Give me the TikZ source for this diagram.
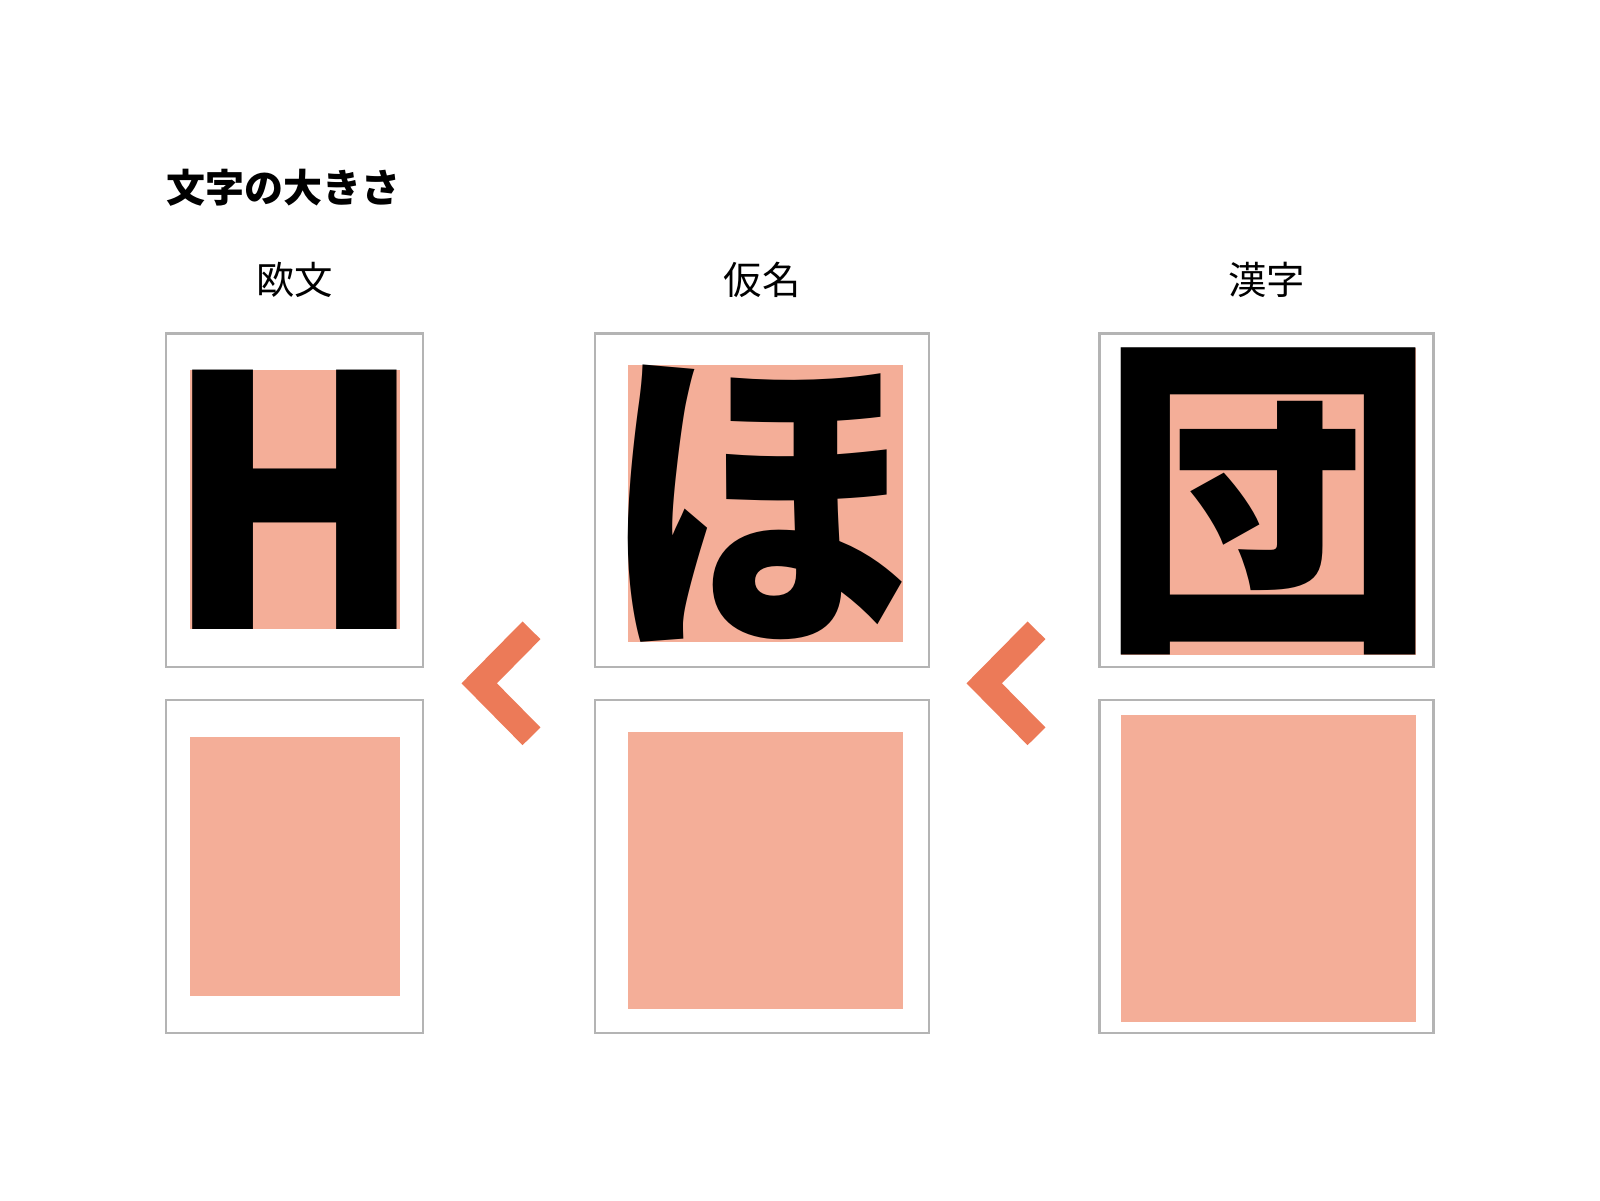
\documentclass[tikz,border=0pt]{standalone}
\usepackage{fontspec}
\newfontfamily\jpfont{Noto Sans CJK JP}
\usetikzlibrary{calc}

\definecolor{sizepink}{HTML}{F4AE98}
\definecolor{arroworange}{HTML}{EC7A58}
\definecolor{framegray}{HTML}{B4B4B4}

\begin{document}
\begin{tikzpicture}[
  x=0.5pt, y=-0.5pt,
  frame/.style={draw=framegray, line width=1.45pt},
  chevron/.style={draw=arroworange, line width=12.6pt, line join=miter, line cap=butt},
  every node/.style={inner sep=0pt}
]
\useasboundingbox (0,0) rectangle (1600,1200);

% ---------------- Title ----------------
\node[anchor=west, font=\jpfont\bfseries\fontsize{19.5pt}{23pt}\selectfont] (title) at (166,188) {文字の大きさ};

% ---------------- Columns: label, frames, ink boxes, glyph ----------------
\foreach \n/\cx/\bw/\px/\py/\pw/\ph/\fit/\gx/\lab/\gl in {
  1/294.5/257/295/499.5/210/259/0.80/0/欧文/H,
  2/762/334/765/503.5/275/277/0.89/-7/仮名/ほ,
  3/1266.5/334/1268.5/501.5/295/307/0.87/0/漢字/団}{
  \node[font=\jpfont\fontsize{19.2pt}{23pt}\selectfont] (label\n) at (\cx,280) {\lab};
  % top and bottom frames
  \draw[frame] (\cx-\bw/2,333.5) rectangle (\cx+\bw/2,667);
  \draw[frame] (\cx-\bw/2,700) rectangle (\cx+\bw/2,1033);
  % ink boxes (same size in both rows)
  \fill[sizepink] (\px-\pw/2,\py-\ph/2) rectangle (\px+\pw/2,\py+\ph/2);
  \fill[sizepink] (\px-\pw/2,\py+366.5-\ph/2) rectangle (\px+\pw/2,\py+366.5+\ph/2);
  % the glyph, stretched to its ink box
  \pgfmathsetlengthmacro\glw{\pw*0.5pt/\fit}
  \pgfmathsetlengthmacro\glh{\ph*0.5pt}
  \node (glyph\n) at (\px+\gx,\py) {\resizebox*{\glw}{\glh}{\jpfont\bfseries\gl}};
}

% ---------------- Chevrons ----------------
\coordinate (c1) at (479.2,683.3);
\coordinate (c2) at (984.2,683.3);
\draw[chevron] ($(c1)+(52.3,-53)$) -- (c1) -- ($(c1)+(52.3,53)$);
\draw[chevron] ($(c2)+(52.3,-53)$) -- (c2) -- ($(c2)+(52.3,53)$);

\end{tikzpicture}
\end{document}
